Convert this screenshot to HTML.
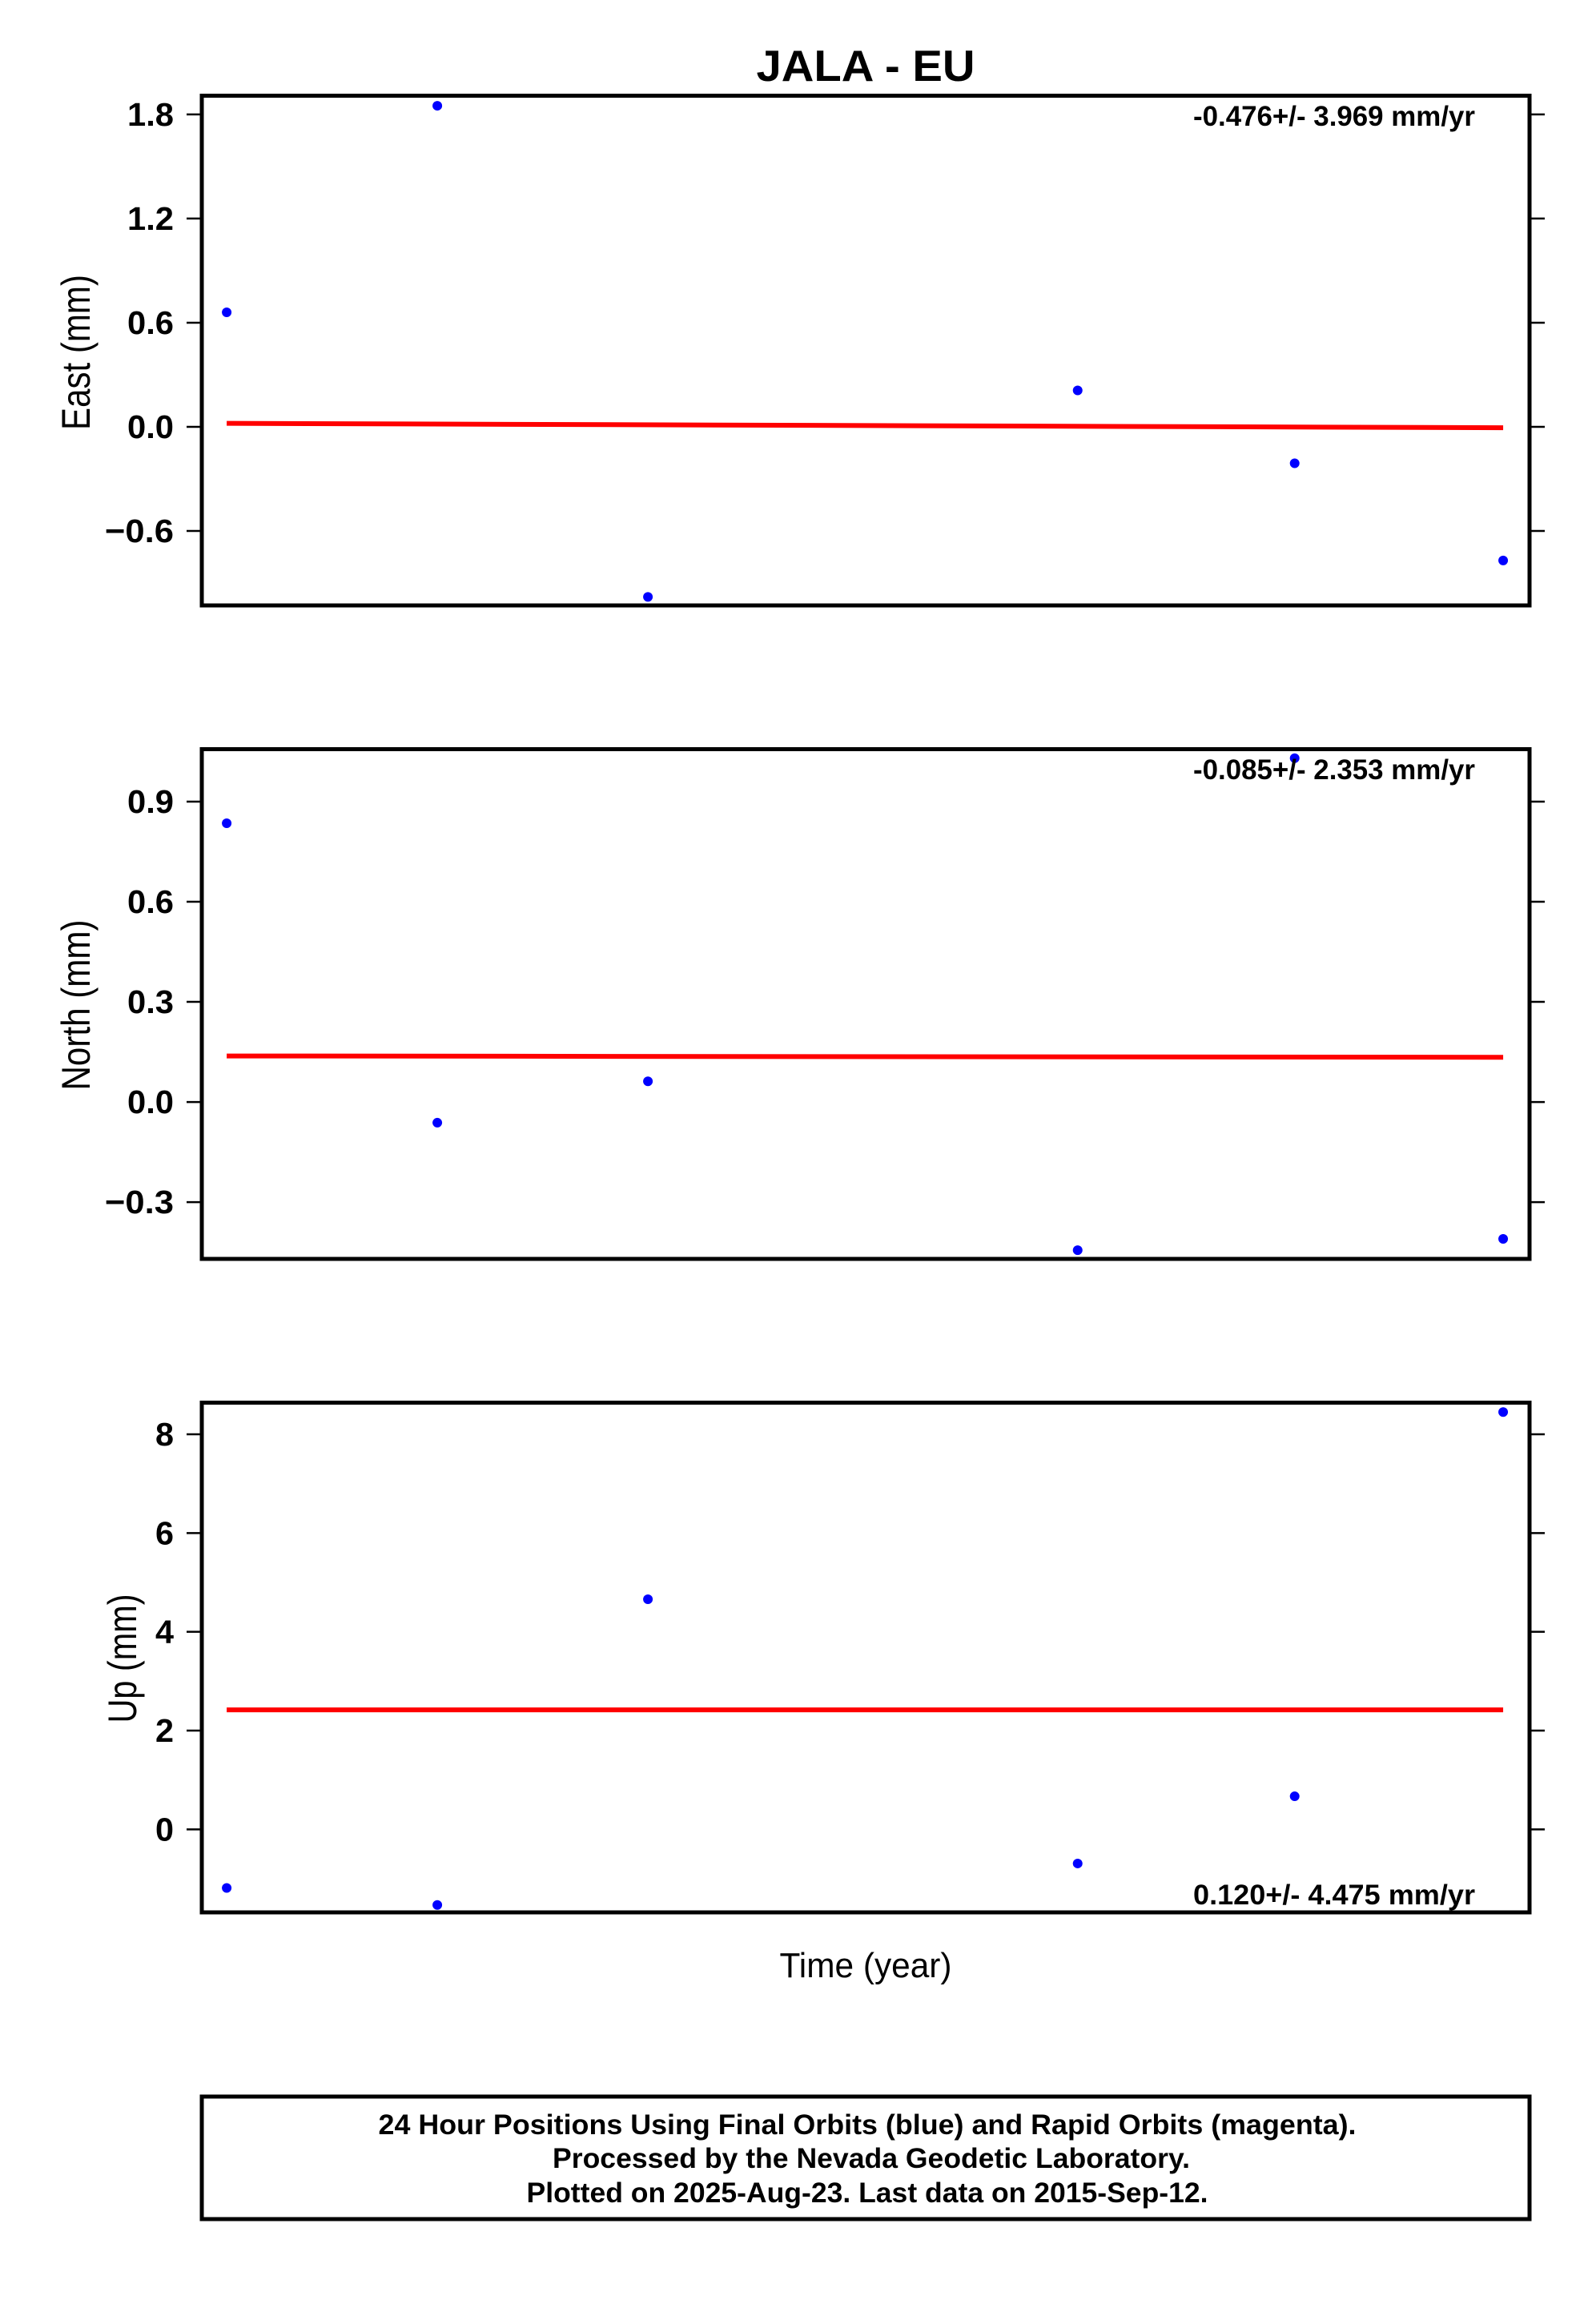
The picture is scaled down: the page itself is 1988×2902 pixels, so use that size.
<!DOCTYPE html>
<html><head><meta charset="utf-8"><style>
html,body{margin:0;padding:0;background:#fff;}
svg{display:block;}
text{font-family:"Liberation Sans",Arial,sans-serif;fill:#000;}
</style></head><body>
<svg id="chart" width="1988" height="2902" viewBox="0 0 1988 2902" xmlns="http://www.w3.org/2000/svg">
<text x="1081" y="101" text-anchor="middle" font-weight="bold" font-size="55" textLength="273" lengthAdjust="spacingAndGlyphs">JALA - EU</text>
<g id="panels"></g>
<text x="1081" y="2469" text-anchor="middle" font-size="44" textLength="215" lengthAdjust="spacingAndGlyphs">Time (year)</text>
<rect x="252" y="2618" width="1658" height="153" fill="none" stroke="#000" stroke-width="5"/>
<text x="1083" y="2665" text-anchor="middle" font-weight="bold" font-size="35" textLength="1221" lengthAdjust="spacingAndGlyphs">24 Hour Positions Using Final Orbits (blue) and Rapid Orbits (magenta).</text>
<text x="1088" y="2707" text-anchor="middle" font-weight="bold" font-size="35" textLength="796" lengthAdjust="spacingAndGlyphs">Processed by the Nevada Geodetic Laboratory.</text>
<text x="1083" y="2750" text-anchor="middle" font-weight="bold" font-size="35" textLength="851" lengthAdjust="spacingAndGlyphs">Plotted on 2025-Aug-23. Last data on 2015-Sep-12.</text>
</svg>
<script>
// shared time axis (relative epochs)
const times = [0, 0.99, 1.98, 4.0, 5.02, 6];
const xDomain = [-0.117, 6.124];

// East
const eastValues = [0.66, 1.85, -0.98, 0.21, -0.21, -0.77];
const eastTrend = [0.02, -0.005];
const eastTicks = [1.8, 1.2, 0.6, 0.0, -0.6];
const eastTickLabels = ["1.8", "1.2", "0.6", "0.0", "\u22120.6"];
const eastDomain = [-1.029, 1.908];
const eastRate = "-0.476+/- 3.969 mm/yr";

// North
const northValues = [0.835, -0.062, 0.062, -0.444, 1.03, -0.41];
const northTrend = [0.138, 0.134];
const northTicks = [0.9, 0.6, 0.3, 0.0, -0.3];
const northTickLabels = ["0.9", "0.6", "0.3", "0.0", "\u22120.3"];
const northDomain = [-0.47, 1.057];
const northRate = "-0.085+/- 2.353 mm/yr";

// Up
const upValues = [-1.185, -1.53, 4.66, -0.69, 0.67, 8.45];
const upTrend = [2.42, 2.42];
const upTicks = [8, 6, 4, 2, 0];
const upTickLabels = ["8", "6", "4", "2", "0"];
const upDomain = [-1.68, 8.64];
const upRate = "0.120+/- 4.475 mm/yr";

const NS = "http://www.w3.org/2000/svg";
const root = document.getElementById("panels");
const L = 252, R = 1910;
function mk(tag, attrs, parent) {
  const e = document.createElementNS(NS, tag);
  for (const k in attrs) e.setAttribute(k, attrs[k]);
  parent.appendChild(e);
  return e;
}
function labelWidth(s) {
  let w = 0;
  for (const c of s) { if (c === ".") w += 12; else if (c === "\u2212" || c === "-") w += 28; else w += 23; }
  return w;
}
const panels = [
  {key: "east", title: "East (mm)", top: 119.5, bottom: 756, vals: eastValues, trend: eastTrend, ticks: eastTicks, tl: eastTickLabels, dom: eastDomain, rate: eastRate, rateY: 157, titleX: 112, titleY: 440, titleLen: 194},
  {key: "north", title: "North (mm)", top: 935.5, bottom: 1572, vals: northValues, trend: northTrend, ticks: northTicks, tl: northTickLabels, dom: northDomain, rate: northRate, rateY: 973, titleX: 112, titleY: 1255, titleLen: 213},
  {key: "up", title: "Up (mm)", top: 1751.5, bottom: 2388, vals: upValues, trend: upTrend, ticks: upTicks, tl: upTickLabels, dom: upDomain, rate: upRate, rateY: 2378, titleX: 170, titleY: 2071, titleLen: 161}
];
panels.forEach(p => {
  const g = mk("g", {}, root);
  
  
  const xs = t => L + (t - xDomain[0]) / (xDomain[1] - xDomain[0]) * (R - L);
  const ys = v => p.bottom - (v - p.dom[0]) / (p.dom[1] - p.dom[0]) * (p.bottom - p.top);
  p.ticks.forEach((v, i) => {
    const y = ys(v);
    const tk = mk("line", {x1: L - 19, x2: L, y1: y, y2: y, stroke: "#000", "stroke-width": 2.5}, g);
    
    
    const tr = mk("line", {x1: R, x2: R + 19, y1: y, y2: y, stroke: "#000", "stroke-width": 2.5}, g);
    
    
    const lab = p.tl[i];
    const t = mk("text", {x: 217, y: y + 14, "text-anchor": "end", "font-weight": "bold", "font-size": 41, textLength: labelWidth(lab), lengthAdjust: "spacingAndGlyphs"}, g);
    t.textContent = lab;
    
    
  });
  const at = mk("text", {x: p.titleX, y: p.titleY, transform: `rotate(-90 ${p.titleX} ${p.titleY})`, "text-anchor": "middle", "font-size": 50, textLength: p.titleLen, lengthAdjust: "spacingAndGlyphs"}, g);
  at.textContent = p.title;
  
  
  const ln = mk("line", {x1: xs(times[0]), x2: xs(times[times.length - 1]), y1: ys(p.trend[0]), y2: ys(p.trend[1]), stroke: "#ff0000", "stroke-width": 6}, g);
  
  
  p.vals.forEach((v, i) => {
    const c = mk("circle", {cx: xs(times[i]), cy: ys(v), r: 6, fill: "#0000ff"}, g);
    
    
  });
  const fr = mk("rect", {x: L, y: p.top, width: R - L, height: p.bottom - p.top, fill: "none", stroke: "#000", "stroke-width": 5}, g);
  
  
  const rt = mk("text", {x: 1842, y: p.rateY, "text-anchor": "end", "font-weight": "bold", "font-size": 35, textLength: 352, lengthAdjust: "spacingAndGlyphs"}, g);
  rt.textContent = p.rate;
  
  
});
</script>
</body></html>
